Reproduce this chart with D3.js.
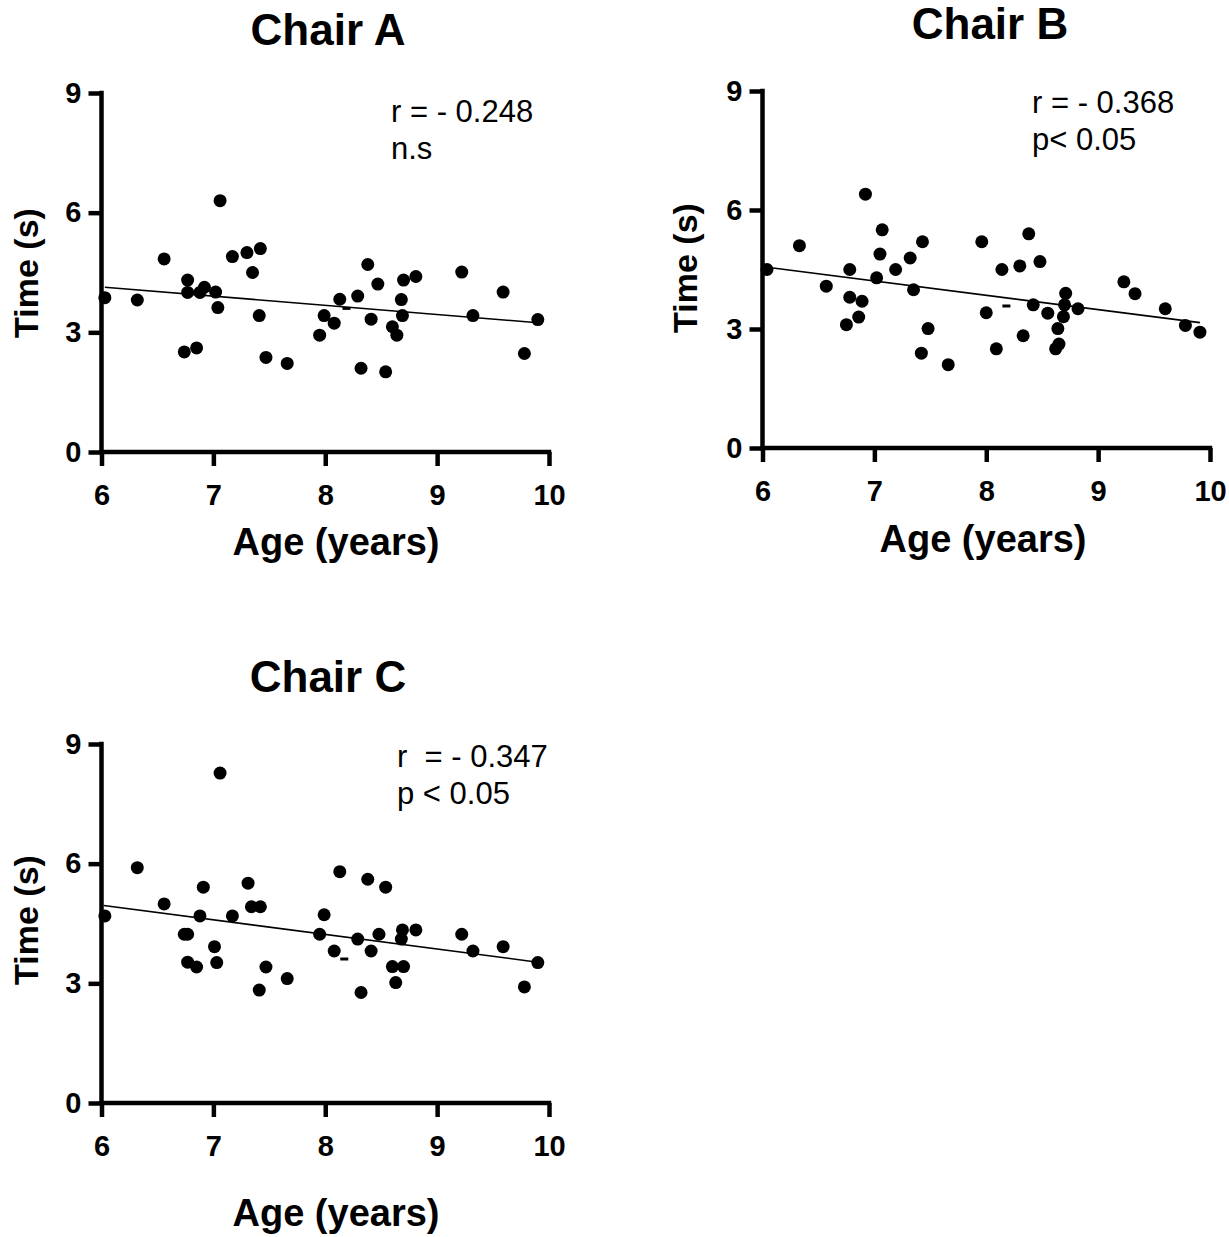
<!DOCTYPE html>
<html><head><meta charset="utf-8">
<script src="https://cdn.jsdelivr.net/npm/d3@7"></script>
<style>
html,body{margin:0;padding:0;background:#fff;}
svg{display:block;font-family:"Liberation Sans",Arial,sans-serif;}
</style></head>
<body>
<svg id="chart" width="1229" height="1237"></svg>
<script>
// ---------- DATA ----------
const xTicks = [6, 7, 8, 9, 10];
const yTicks = [0, 3, 6, 9];
const titles = ["Chair A", "Chair B", "Chair C"];
const xLabel = "Age (years)";
const yLabel = "Time (s)";

const ageA = [7.06,6.56,7.17,7.30,7.42,7.35,6.77,6.77,6.88,6.92,7.02,7.04,7.41,6.03,6.32,6.74,6.85,7.47,7.66,7.99,7.95,8.08,8.13,8.29,8.38,8.41,8.47,8.68,8.70,8.81,8.69,8.60,8.64,8.32,8.54,9.22,9.32,9.59,9.78,9.90];
const timeA = [6.30,4.84,4.90,5.00,5.10,4.50,4.31,4.00,4.00,4.13,4.01,3.62,3.42,3.87,3.81,2.51,2.61,2.37,2.22,3.42,2.93,3.23,3.83,3.91,4.70,3.33,4.21,3.82,4.31,4.40,3.42,3.14,2.93,2.10,2.01,4.51,3.42,4.01,2.47,3.32];
const fitA = [[6.03, 4.13], [9.90, 3.24]];
const dashA = [8.19, 3.60];
const statsA = ["r = - 0.248", "n.s"];

const ageB = [6.92,6.33,6.04,7.07,7.05,7.43,7.32,7.19,6.78,7.02,6.57,6.78,6.89,6.86,6.75,7.35,7.48,7.42,7.66,7.96,8.00,8.38,8.14,8.30,8.48,8.42,8.55,8.71,8.70,8.82,8.69,8.64,8.65,8.62,8.33,8.09,9.23,9.33,9.60,9.78,9.91];
const timeB = [6.40,5.10,4.50,5.50,4.89,5.20,4.79,4.50,4.50,4.29,4.08,3.80,3.70,3.30,3.11,3.99,3.01,2.39,2.10,5.20,3.41,5.40,4.50,4.59,4.70,3.61,3.40,3.90,3.61,3.51,3.31,3.01,2.62,2.50,2.83,2.50,4.19,3.89,3.51,3.09,2.92];
const fitB = [[6.06, 4.55], [9.91, 3.16]];
const dashB = [8.18, 3.58];
const statsB = ["r = - 0.368", "p< 0.05"];

const ageC = [7.06,6.32,6.03,6.56,6.91,7.31,6.88,7.17,7.34,7.42,6.74,6.77,7.01,6.77,6.85,7.03,7.47,7.41,7.66,7.99,7.95,8.13,8.38,8.54,8.08,8.29,8.41,8.48,8.69,8.68,8.81,8.60,8.70,8.63,8.32,9.22,9.32,9.59,9.78,9.90];
const timeC = [8.27,5.90,4.69,4.99,5.41,5.51,4.69,4.69,4.92,4.92,4.23,4.23,3.92,3.53,3.41,3.52,3.41,2.83,3.12,4.72,4.23,5.80,5.61,5.41,3.81,4.11,3.81,4.23,4.34,4.11,4.34,3.42,3.42,3.02,2.77,4.23,3.81,3.92,2.91,3.52];
const fitC = [[6.02, 4.95], [9.90, 3.53]];
const dashC = [8.17, 3.61];
const statsC = ["r  = - 0.347", "p < 0.05"];

// ---------- LAYOUT ----------
const panels = [
  {title: titles[0], age: ageA, time: timeA, fit: fitA, dash: dashA, stats: statsA,
   xL: 101.5, xR: 549, yB: 452, yT: 93, titleX: 328, titleY: 45, statX: 391, statY: 122,
   yLabX: 38, yLabY: 273, xLabX: 336, xLabY: 555},
  {title: titles[1], age: ageB, time: timeB, fit: fitB, dash: dashB, stats: statsB,
   xL: 762.5, xR: 1210, yB: 448, yT: 91, titleX: 990, titleY: 39, statX: 1032, statY: 113,
   yLabX: 697, yLabY: 268, xLabX: 983, xLabY: 552},
  {title: titles[2], age: ageC, time: timeC, fit: fitC, dash: dashC, stats: statsC,
   xL: 101.5, xR: 549, yB: 1103, yT: 744, titleX: 328, titleY: 692, statX: 397, statY: 767,
   yLabX: 38, yLabY: 920, xLabX: 336, xLabY: 1226}
];

const svg = d3.select("#chart");
const AXW = 4.5;

panels.forEach(p => {
  const x = d3.scaleLinear().domain([6, 10]).range([p.xL, p.xR]);
  const y = d3.scaleLinear().domain([0, 9]).range([p.yB, p.yT]);
  const g = svg.append("g");

  // title
  g.append("text").attr("x", p.titleX).attr("y", p.titleY)
    .attr("text-anchor", "middle").attr("font-weight", "bold")
    .attr("font-size", 44).text(p.title);

  // axes
  const ax = g.append("g").attr("transform", `translate(0,${p.yB})`)
    .call(d3.axisBottom(x).tickValues(xTicks).tickSize(14).tickPadding(11).tickFormat(d3.format("d")));
  const ay = g.append("g").attr("transform", `translate(${p.xL},0)`)
    .call(d3.axisLeft(y).tickValues(yTicks).tickSize(13).tickPadding(7).tickFormat(d3.format("d")));
  [ax, ay].forEach(a => {
    a.select(".domain").remove();
    a.selectAll(".tick line").attr("stroke", "#000").attr("stroke-width", AXW);
    a.selectAll(".tick text").attr("fill", "#000").attr("font-size", 29)
      .attr("font-weight", "bold").attr("font-family", "Liberation Sans, Arial, sans-serif");
  });
  ax.selectAll(".tick text").attr("dy", "0.95em");
  // domain lines
  g.append("line").attr("x1", x(6) - AXW/2).attr("x2", x(10) + AXW/2)
    .attr("y1", y(0)).attr("y2", y(0)).attr("stroke", "#000").attr("stroke-width", AXW);
  g.append("line").attr("x1", x(6)).attr("x2", x(6))
    .attr("y1", y(9) - AXW/2).attr("y2", y(0) + AXW/2).attr("stroke", "#000").attr("stroke-width", AXW);

  // axis labels
  g.append("text").attr("x", p.xLabX).attr("y", p.xLabY)
    .attr("text-anchor", "middle").attr("font-weight", "bold")
    .attr("font-size", 38).text(xLabel);
  g.append("text").attr("transform", `translate(${p.yLabX},${p.yLabY}) rotate(-90)`)
    .attr("text-anchor", "middle").attr("font-weight", "bold")
    .attr("font-size", 34).text(yLabel);

  // regression line
  g.append("path").datum(p.fit)
    .attr("d", d3.line().x(d => x(d[0])).y(d => y(d[1])))
    .attr("fill", "none").attr("stroke", "#000").attr("stroke-width", 1.6);

  // dash marker
  g.append("rect").attr("x", x(p.dash[0]) - 4).attr("y", y(p.dash[1]) - 1.5)
    .attr("width", 8).attr("height", 3).attr("fill", "#000");

  // points
  g.selectAll("circle.pt").data(d3.zip(p.age, p.time)).join("circle")
    .attr("class", "pt").attr("cx", d => x(d[0])).attr("cy", d => y(d[1]))
    .attr("r", 6.5).attr("fill", "#000");

  // stats annotation
  p.stats.forEach((s, i) => {
    g.append("text").attr("x", p.statX).attr("y", p.statY + i * 37)
      .attr("font-size", 31).attr("xml:space", "preserve")
      .style("white-space", "pre").text(s);
  });
});
</script>
</body></html>
